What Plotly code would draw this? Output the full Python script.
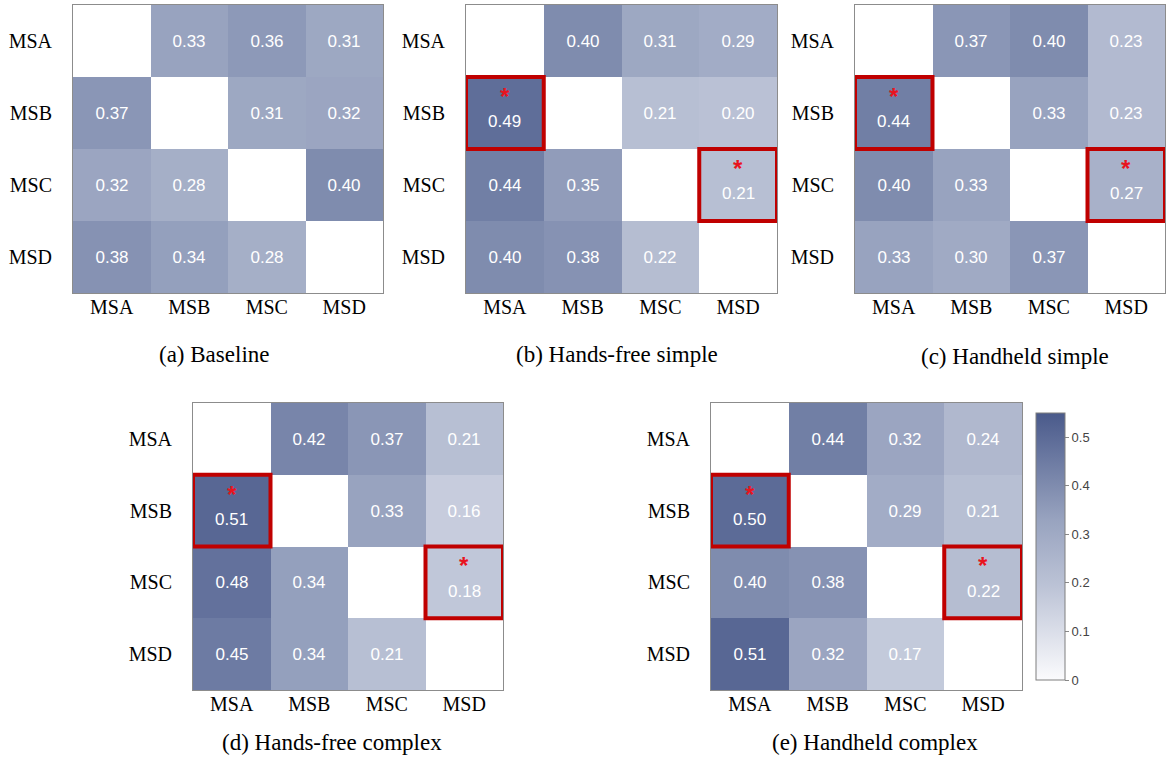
import plotly.graph_objects as go

# Sensor labels (rows = source, columns = target)
sensors = ["MSA", "MSB", "MSC", "MSD"]

# Pairwise values for each condition; None on the diagonal
baseline = [
    [None, 0.33, 0.36, 0.31],
    [0.37, None, 0.31, 0.32],
    [0.32, 0.28, None, 0.40],
    [0.38, 0.34, 0.28, None],
]
handsfree_simple = [
    [None, 0.40, 0.31, 0.29],
    [0.49, None, 0.21, 0.20],
    [0.44, 0.35, None, 0.21],
    [0.40, 0.38, 0.22, None],
]
handheld_simple = [
    [None, 0.37, 0.40, 0.23],
    [0.44, None, 0.33, 0.23],
    [0.40, 0.33, None, 0.27],
    [0.33, 0.30, 0.37, None],
]
handsfree_complex = [
    [None, 0.42, 0.37, 0.21],
    [0.51, None, 0.33, 0.16],
    [0.48, 0.34, None, 0.18],
    [0.45, 0.34, 0.21, None],
]
handheld_complex = [
    [None, 0.44, 0.32, 0.24],
    [0.50, None, 0.29, 0.21],
    [0.40, 0.38, None, 0.22],
    [0.51, 0.32, 0.17, None],
]

titles = ["(a) Baseline", "(b) Hands-free simple", "(c) Handheld simple",
          "(d) Hands-free complex", "(e) Handheld complex"]
matrices = [baseline, handsfree_simple, handheld_simple,
            handsfree_complex, handheld_complex]

# Significant pairs (row, col) highlighted in every panel except the baseline
significant = [(1, 0), (2, 3)]
highlight_panels = [False, True, True, True, True]

colorbar_ticks = [0, 0.1, 0.2, 0.3, 0.4, 0.5]

# Panel placement in paper coordinates
W, H = 1172, 760
panels_px = [  # (left, right, top, bottom) in px
    (73, 383, 5, 293),
    (466, 777, 5, 293),
    (855, 1165, 5, 293),
    (193, 503, 403, 690),
    (711, 1022, 403, 690),
]
title_px = [(214, 355), (617, 355), (1015, 356), (332, 742), (875, 742)]

colorscale = [[0.0, "#fbfbfd"], [0.35, "#bcc3d6"], [0.6, "#98a3bf"],
              [1.0, "#4a5a8b"]]
serif = "Times New Roman, Liberation Serif, serif"
sans = "Arial, Liberation Sans, sans-serif"

fig = go.Figure()
annotations = []
shapes = []

for i, (z, title) in enumerate(zip(matrices, titles)):
    ax = "" if i == 0 else str(i + 1)
    xref, yref = "x" + ax, "y" + ax
    star = highlight_panels[i]
    text = []
    for r in range(4):
        row = []
        for c in range(4):
            v = z[r][c]
            if v is None or (star and (r, c) in significant):
                row.append("")
            else:
                row.append(f"{v:.2f}")
        text.append(row)

    fig.add_trace(go.Heatmap(
        z=z, x=sensors, y=sensors, text=text, texttemplate="%{text}",
        textfont=dict(family=sans, size=17, color="white"),
        colorscale=colorscale, zmin=0, zmax=0.55,
        xgap=0, ygap=0, hoverongaps=False,
        showscale=(i == 4),
        colorbar=dict(
            x=1036 / W, xanchor="left", xpad=0,
            y=1 - 546.5 / H, yanchor="middle",
            len=287 / H, lenmode="fraction", thickness=29,
            outlinecolor="#7f7f7f", outlinewidth=1,
            tickvals=colorbar_ticks, ticktext=[f"{t:g}" for t in colorbar_ticks],
            ticks="outside", ticklen=4, tickcolor="#888",
            tickfont=dict(family=sans, size=13, color="#444"),
        ),
        xaxis=xref, yaxis=yref,
    ))

    if star:
        for (r, c) in significant:
            v = z[r][c]
            annotations.append(dict(
                x=sensors[c], y=sensors[r], xref=xref, yref=yref,
                text=f"{v:.2f}", showarrow=False, yshift=-9,
                font=dict(family=sans, size=17, color="white")))
            annotations.append(dict(
                x=sensors[c], y=sensors[r], xref=xref, yref=yref,
                text="<b>*</b>", showarrow=False, yanchor="bottom", yshift=1,
                font=dict(family=sans, size=24, color="#e8141e")))
            shapes.append(dict(
                type="rect", xref=xref, yref=yref,
                x0=c - 0.5, x1=c + 0.5, y0=r - 0.5, y1=r + 0.5,
                line=dict(color="#c00000", width=4), layer="above"))

    l, rgt, t, b = panels_px[i]
    axis_common = dict(showline=True, mirror=True, linecolor="#8c8c8c",
                       linewidth=1, showgrid=False, zeroline=False, ticks="",
                       tickfont=dict(family=serif, size=20, color="black"))
    fig.layout["xaxis" + ax] = dict(
        domain=[l / W, rgt / W], anchor=yref, ticklabelstandoff=-4,
        range=[-0.5, 3.5], **axis_common)
    fig.layout["yaxis" + ax] = dict(
        domain=[1 - b / H, 1 - t / H], anchor=xref, ticklabelstandoff=16,
        range=[3.5, -0.5], **axis_common)

    tx, ty = title_px[i]
    annotations.append(dict(
        x=tx / W, y=1 - ty / H, xref="paper", yref="paper",
        text=title, showarrow=False, xanchor="center", yanchor="middle",
        font=dict(family=serif, size=23, color="black")))

fig.update_layout(
    width=W, height=H, margin=dict(l=0, r=0, t=0, b=0),
    paper_bgcolor="white", plot_bgcolor="white",
    annotations=annotations, shapes=shapes,
)

fig.write_html("out.html")
